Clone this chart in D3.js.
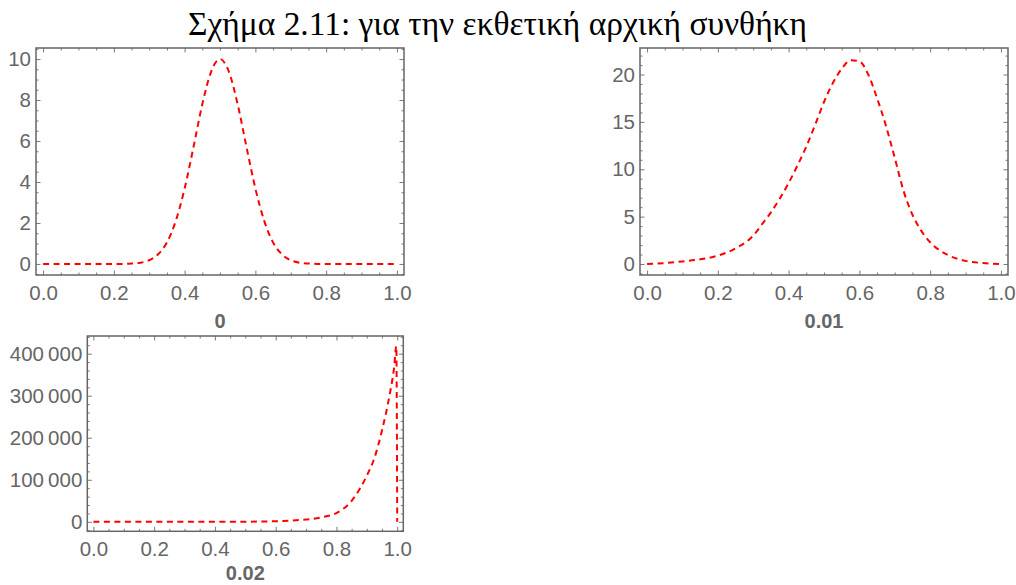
<!DOCTYPE html>
<html>
<head>
<meta charset="utf-8">
<script src="https://cdn.jsdelivr.net/npm/d3@7"></script>
<style>
  html, body { margin: 0; padding: 0; background: #fff; }
  svg { display: block; }
</style>
</head>
<body>
<svg id="chart" width="1016" height="585"></svg>
<script>
// Figure caption
const titleText = "Σχήμα 2.11: για την εκθετική αρχική συνθήκη";

// Shared x ticks
const xMajorTicks = [0, 0.2, 0.4, 0.6, 0.8, 1.0];
const xMinorStep = 0.05;

// Panel labels (parameter value under each plot)
const panelLabels = ["0", "0.01", "0.02"];

// Panel 1: initial profile
const p1X = [0, 0.025, 0.05, 0.075, 0.1, 0.125, 0.15, 0.175, 0.2, 0.225, 0.25, 0.275, 0.3, 0.325, 0.35, 0.375, 0.4, 0.425, 0.45, 0.475, 0.5,
             0.525, 0.55, 0.575, 0.6, 0.625, 0.65, 0.675, 0.7, 0.725, 0.75, 0.775, 0.8, 0.825, 0.85, 0.875, 0.9, 0.925, 0.95, 0.975, 1.0];
const p1Y = [0, 0, 0, 0, 0, 0, 0, 0, 0, 0, 0.02, 0.06, 0.18, 0.47, 1.05, 2.10, 3.68, 5.70, 7.79, 9.39, 10.0,
             9.39, 7.79, 5.70, 3.68, 2.10, 1.05, 0.47, 0.18, 0.06, 0.02, 0, 0, 0, 0, 0, 0, 0, 0, 0, 0];
const p1YTicks = [0, 2, 4, 6, 8, 10];
const p1YMinor = 0.5;

// Panel 2
const p2X = [0, 0.05, 0.1, 0.15, 0.2, 0.25, 0.3, 0.325, 0.35, 0.375, 0.4, 0.425, 0.45, 0.475, 0.5, 0.525, 0.55, 0.575, 0.6,
             0.625, 0.65, 0.675, 0.7, 0.725, 0.75, 0.775, 0.8, 0.85, 0.9, 0.95, 1.0];
const p2Y = [0, 0.1, 0.27, 0.5, 0.88, 1.65, 3.0, 4.2, 5.45, 6.9, 8.55, 10.4, 12.4, 14.7, 17.1, 19.1, 20.6, 21.5, 21.4,
             20.0, 17.5, 14.6, 11.2, 7.7, 5.2, 3.5, 2.3, 0.95, 0.33, 0.1, 0];
const p2YTicks = [0, 5, 10, 15, 20];
const p2YMinor = 1;

// Panel 3
const p3X = [0, 0.1, 0.2, 0.3, 0.4, 0.5, 0.55, 0.6, 0.65, 0.7, 0.75, 0.8, 0.85, 0.9, 0.925, 0.95, 0.975, 0.99, 0.997, 1.0];
const p3Y = [0, 0, 0, 0, 100, 300, 700, 1500, 3000, 5500, 10500, 21000, 50000, 110000, 152000, 218000, 302000, 369000, 418000, 0];
const p3YTicks = [0, 100000, 200000, 300000, 400000];
const p3YMinor = 20000;

const svg = d3.select("#chart");
const gray = "#666666";
const tickGray = "#7a7a7a";
const sans = "'Liberation Sans', Arial, sans-serif";

// Title, sized to span its measured width
const title = svg.append("text")
  .attr("x", 497.5)
  .attr("y", 35)
  .attr("text-anchor", "middle")
  .attr("font-family", "'Liberation Serif', 'DejaVu Serif', serif")
  .attr("font-size", 30)
  .attr("fill", "#000")
  .text(titleText);
const tw = title.node().getComputedTextLength();
title.attr("font-size", 30 * 619 / tw);

// Digit grouping with a thin space: 400 000
const fmtGrouped = v => d3.format(",")(v).replace(/,/g, "\u2009");

function minorValues(domain, step, majors) {
  const out = [];
  const start = Math.ceil(domain[0] / step - 1e-9);
  const end = Math.floor(domain[1] / step + 1e-9);
  for (let i = start; i <= end; i++) {
    const v = +(i * step).toFixed(10);
    if (!majors.some(m => Math.abs(m - v) < step * 1e-3)) out.push(v);
  }
  return out;
}

function drawPanel(cfg) {
  const { left, top, width, height, xDomain, yDomain, xs, ys, yTicks, yMinor, label, labelY, yFormat } = cfg;
  const g = svg.append("g");
  const x = d3.scaleLinear().domain(xDomain).range([left, left + width]);
  const y = d3.scaleLinear().domain(yDomain).range([top + height, top]);

  const xMinor = minorValues(xDomain, xMinorStep, xMajorTicks);
  const yMinorVals = minorValues(yDomain, yMinor, yTicks);

  const styleAxis = sel => {
    sel.select(".domain").remove();
    sel.selectAll(".tick line").attr("stroke", tickGray).attr("stroke-width", 1);
    sel.selectAll("text").attr("fill", gray).attr("font-family", sans).attr("font-size", 20.5);
  };

  // bottom
  g.append("g").attr("transform", `translate(0,${top + height})`)
    .call(d3.axisBottom(x).tickValues(xMajorTicks).tickFormat(d3.format(".1f")).tickSize(-4.5).tickSizeOuter(0).tickPadding(10.3))
    .call(styleAxis);
  g.append("g").attr("transform", `translate(0,${top + height})`)
    .call(d3.axisBottom(x).tickValues(xMinor).tickFormat("").tickSize(-2.5).tickSizeOuter(0))
    .call(styleAxis);
  // top
  g.append("g").attr("transform", `translate(0,${top})`)
    .call(d3.axisTop(x).tickValues(xMajorTicks).tickFormat("").tickSize(-4.5).tickSizeOuter(0))
    .call(styleAxis);
  g.append("g").attr("transform", `translate(0,${top})`)
    .call(d3.axisTop(x).tickValues(xMinor).tickFormat("").tickSize(-2.5).tickSizeOuter(0))
    .call(styleAxis);
  // left
  g.append("g").attr("transform", `translate(${left},0)`)
    .call(d3.axisLeft(y).tickValues(yTicks).tickFormat(yFormat).tickSize(-4.5).tickSizeOuter(0).tickPadding(5))
    .call(styleAxis);
  g.append("g").attr("transform", `translate(${left},0)`)
    .call(d3.axisLeft(y).tickValues(yMinorVals).tickFormat("").tickSize(-2.5).tickSizeOuter(0))
    .call(styleAxis);
  // right
  g.append("g").attr("transform", `translate(${left + width},0)`)
    .call(d3.axisRight(y).tickValues(yTicks).tickFormat("").tickSize(-4.5).tickSizeOuter(0))
    .call(styleAxis);
  g.append("g").attr("transform", `translate(${left + width},0)`)
    .call(d3.axisRight(y).tickValues(yMinorVals).tickFormat("").tickSize(-2.5).tickSizeOuter(0))
    .call(styleAxis);

  // frame
  g.append("rect")
    .attr("x", left).attr("y", top).attr("width", width).attr("height", height)
    .attr("fill", "none").attr("stroke", gray).attr("stroke-width", 1.5);

  // curve
  const pts = xs.map((v, i) => [v, ys[i]]);
  const line = d3.line().x(d => x(d[0])).y(d => y(d[1])).curve(d3.curveMonotoneX);
  g.append("path")
    .attr("d", line(pts))
    .attr("fill", "none")
    .attr("stroke", "#ff0000")
    .attr("stroke-width", 2)
    .attr("stroke-dasharray", "6,4.5");

  // panel label
  g.append("text")
    .attr("x", left + width / 2)
    .attr("y", labelY)
    .attr("text-anchor", "middle")
    .attr("font-family", sans)
    .attr("font-weight", "bold")
    .attr("font-size", 20)
    .attr("fill", gray)
    .text(label);
}

drawPanel({
  left: 36, top: 48, width: 368, height: 227,
  xDomain: [-0.02, 1.02], yDomain: [-0.54, 10.54],
  xs: p1X, ys: p1Y, yTicks: p1YTicks, yMinor: p1YMinor,
  label: panelLabels[0], labelY: 328, yFormat: d3.format("d")
});

drawPanel({
  left: 640, top: 48, width: 368, height: 227,
  xDomain: [-0.02, 1.02], yDomain: [-1.16, 22.8],
  xs: p2X, ys: p2Y, yTicks: p2YTicks, yMinor: p2YMinor,
  label: panelLabels[1], labelY: 328, yFormat: d3.format("d")
});

drawPanel({
  left: 87.3, top: 336, width: 316, height: 195.3,
  xDomain: [-0.02, 1.02], yDomain: [-22500, 442000],
  xs: p3X, ys: p3Y, yTicks: p3YTicks, yMinor: p3YMinor,
  label: panelLabels[2], labelY: 580, yFormat: fmtGrouped
});
</script>
</body>
</html>
